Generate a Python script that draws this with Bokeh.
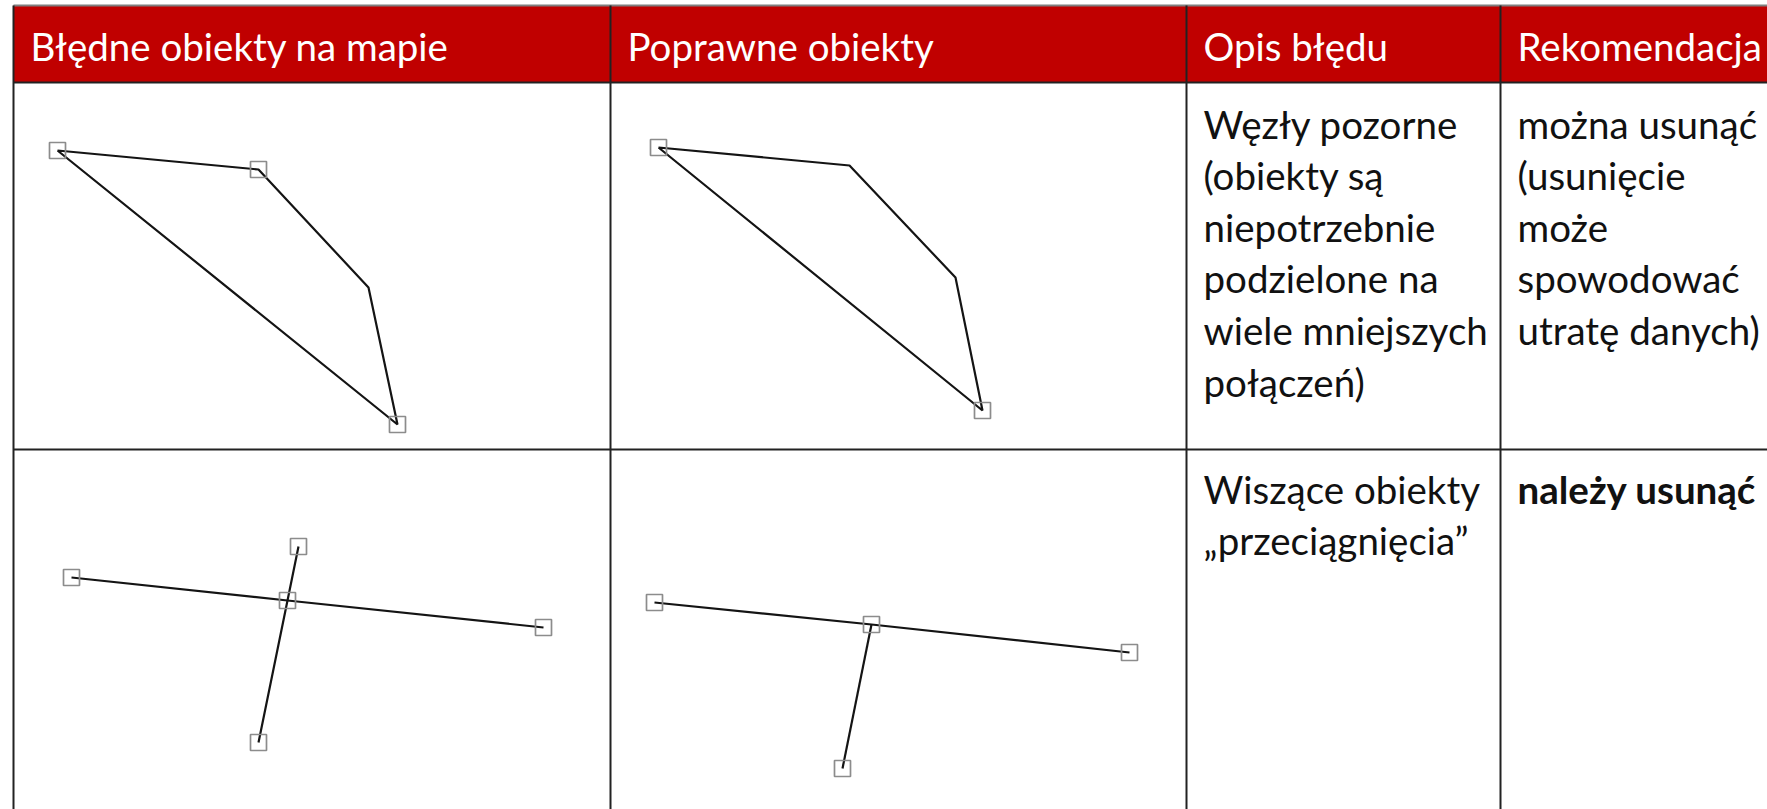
from bokeh.plotting import figure
from bokeh.models import Range1d
from bokeh.core.properties import value
from bokeh.embed import file_html
from bokeh.resources import INLINE

# ---------------- data ----------------
headers = ["Błędne obiekty na mapie", "Poprawne obiekty", "Opis błędu", "Rekomendacja"]

row1_desc = ["Węzły pozorne", "(obiekty są", "niepotrzebnie", "podzielone na",
             "wiele mniejszych", "połączeń)"]
row1_rec = ["można usunąć", "(usunięcie", "może", "spowodować", "utratę danych)"]
row2_desc = ["Wiszące obiekty", "„przeciągnięcia”"]
row2_rec = ["należy usunąć"]

# row 1 – pseudo nodes (polygon vertices)
r1_wrong_x = [57, 258, 368, 397]
r1_wrong_y = [150, 169, 287, 424]
r1_wrong_nodes = [0, 1, 3]
r1_ok_x = [658, 849, 955, 982]
r1_ok_y = [147, 165, 277, 410]
r1_ok_nodes = [0, 3]

# row 2 – overshoots
r2_wrong_main_x = [71, 287, 543]
r2_wrong_main_y = [577, 600, 627]
r2_wrong_cross_x = [298, 287, 258]
r2_wrong_cross_y = [546, 600, 742]
r2_ok_main_x = [654, 871, 1129]
r2_ok_main_y = [602, 624, 652]
r2_ok_cross_x = [871, 842]
r2_ok_cross_y = [624, 768]

# ---------------- layout ----------------
W, H = 1767, 809
col_edges = [13, 610, 1186, 1500, 1800]
head_top, head_bot, row1_bot, tab_bot = 5, 82, 449, 830
head_base = 45
r1_base, r2_base, pitch = 123, 488, 51.6
FONT = "Lato"
FS = "38.5px"
RED = "#C00000"
LINE = "#141414"
NODE = "#8c8c8c"

p = figure(width=W, height=H, x_range=Range1d(0, W), y_range=Range1d(H, 0),
           output_backend="svg", toolbar_location=None, min_border=0,
           x_axis_location=None, y_axis_location=None)
p.grid.visible = False
p.outline_line_color = None
p.background_fill_color = "white"
p.border_fill_color = "white"

# header band
p.quad(left=col_edges[0], right=col_edges[-1], top=head_top, bottom=head_bot,
       fill_color=RED, line_color=None)

# table lines
p.segment(x0=[col_edges[0]] * 3, x1=[col_edges[-1]] * 3,
          y0=[head_top, head_bot, row1_bot], y1=[head_top, head_bot, row1_bot],
          line_color=["#7f7f7f", "#222222", "#222222"], line_width=2)
p.segment(x0=col_edges[:-1], x1=col_edges[:-1], y0=[head_top] * 4, y1=[tab_bot] * 4,
          line_color="#222222", line_width=2)

# header texts
hx = [col_edges[0] + 17, col_edges[1] + 17, col_edges[2] + 17, col_edges[3] + 17]
p.text(x=hx, y=[head_base] * 4, text=headers, text_color="white",
       text_font=value(FONT), text_font_size=FS, text_baseline="alphabetic")

def lines(x, y0, texts, bold=False):
    p.text(x=[x] * len(texts), y=[y0 + i * pitch for i in range(len(texts))], text=texts,
           text_color="#111111", text_font=value(FONT), text_font_size=FS,
           text_font_style="bold" if bold else "normal", text_baseline="alphabetic")

lines(col_edges[2] + 17, r1_base, row1_desc)
lines(col_edges[3] + 17, r1_base, row1_rec)
lines(col_edges[2] + 17, r2_base, row2_desc)
lines(col_edges[3] + 17, r2_base, row2_rec, bold=True)

# diagrams
NS = 16

def poly(xs, ys, nodes):
    p.line(xs + xs[:1], ys + ys[:1], line_color=LINE, line_width=2.2)
    p.scatter([xs[i] for i in nodes], [ys[i] for i in nodes], marker="square", size=NS,
              fill_color=None, line_color=NODE, line_width=1.7)

poly(r1_wrong_x, r1_wrong_y, r1_wrong_nodes)
poly(r1_ok_x, r1_ok_y, r1_ok_nodes)

for xs, ys in [(r2_wrong_main_x, r2_wrong_main_y), (r2_wrong_cross_x, r2_wrong_cross_y),
               (r2_ok_main_x, r2_ok_main_y), (r2_ok_cross_x, r2_ok_cross_y)]:
    p.line(xs, ys, line_color=LINE, line_width=2.2)

p.scatter(r2_wrong_main_x + [r2_wrong_cross_x[0], r2_wrong_cross_x[-1]],
          r2_wrong_main_y + [r2_wrong_cross_y[0], r2_wrong_cross_y[-1]],
          marker="square", size=NS, fill_color=None, line_color=NODE, line_width=1.7)
p.scatter(r2_ok_main_x + [r2_ok_cross_x[-1]], r2_ok_main_y + [r2_ok_cross_y[-1]],
          marker="square", size=NS, fill_color=None, line_color=NODE, line_width=1.7)

open("out.html", "w").write(file_html(p, INLINE))
